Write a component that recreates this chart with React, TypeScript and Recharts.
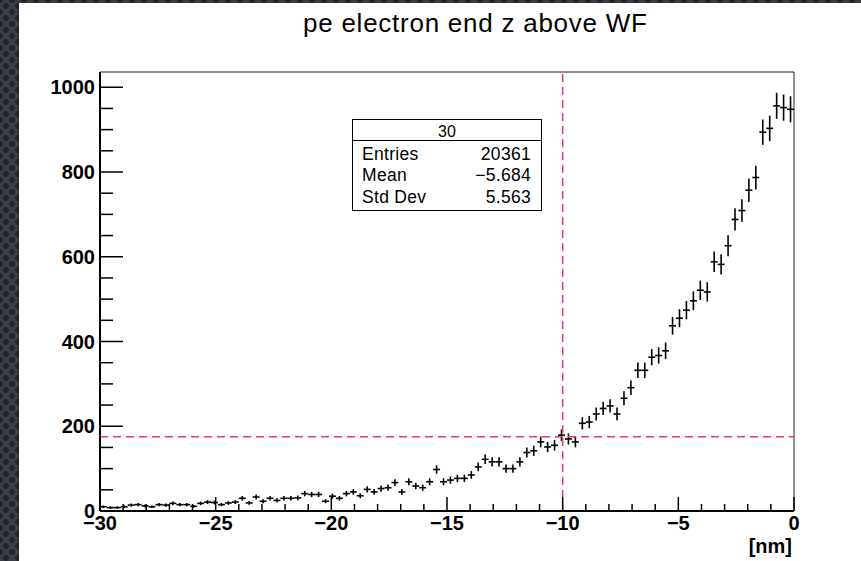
import {
  ScatterChart,
  Scatter,
  XAxis,
  YAxis,
  ErrorBar,
  ReferenceLine,
  ReferenceArea,
} from "recharts";

// histogram "30": bin centres [nm] and entries per bin (0.3 nm bins)
const binCenters = [
  -29.85, -29.55, -29.25, -28.95, -28.65, -28.35, -28.05, -27.75, -27.45, -27.15,
  -26.85, -26.55, -26.25, -25.95, -25.65, -25.35, -25.05, -24.75, -24.45, -24.15,
  -23.85, -23.55, -23.25, -22.95, -22.65, -22.35, -22.05, -21.75, -21.45, -21.15,
  -20.85, -20.55, -20.25, -19.95, -19.65, -19.35, -19.05, -18.75, -18.45, -18.15,
  -17.85, -17.55, -17.25, -16.95, -16.65, -16.35, -16.05, -15.75, -15.45, -15.15,
  -14.85, -14.55, -14.25, -13.95, -13.65, -13.35, -13.05, -12.75, -12.45, -12.15,
  -11.85, -11.55, -11.25, -10.95, -10.65, -10.35, -10.05, -9.75, -9.45, -9.15,
  -8.85, -8.55, -8.25, -7.95, -7.65, -7.35, -7.05, -6.75, -6.45, -6.15,
  -5.85, -5.55, -5.25, -4.95, -4.65, -4.35, -4.05, -3.75, -3.45, -3.15,
  -2.85, -2.55, -2.25, -1.95, -1.65, -1.35, -1.05, -0.75, -0.45, -0.15,
];

const counts = [
  10, 8, 8, 10, 14, 15, 12, 10, 15, 14,
  18, 15, 15, 11, 18, 21, 20, 15, 19, 21,
  30, 19, 33, 23, 30, 25, 30, 30, 31, 41,
  39, 39, 23, 35, 30, 41, 45, 36, 51, 45,
  53, 55, 67, 45, 69, 59, 55, 69, 98, 69,
  73, 77, 77, 85, 104, 122, 116, 116, 100, 100,
  116, 138, 142, 163, 151, 155, 179, 170, 163, 207,
  210, 229, 242, 248, 229, 266, 291, 332, 332, 363,
  367, 378, 437, 455, 474, 496, 521, 517, 588, 582,
  626, 688, 709, 757, 787, 894, 903, 956, 952, 948,
];

const binWidth = 0.3;

const xTicks = [
  -30, -29, -28, -27, -26, -25, -24, -23, -22, -21, -20, -19, -18, -17, -16, -15,
  -14, -13, -12, -11, -10, -9, -8, -7, -6, -5, -4, -3, -2, -1, 0,
];
const xLabelTicks = [-30, -25, -20, -15, -10, -5, 0];
const yTicks = [
  0, 50, 100, 150, 200, 250, 300, 350, 400, 450, 500, 550, 600, 650, 700, 750,
  800, 850, 900, 950, 1000,
];
const yLabelTicks = [0, 200, 400, 600, 800, 1000];
const yMax = 1036;

const cutX = -10;
const cutY = 175;

const statsTitle = "30";
const statsNames = ["Entries", "Mean", "Std Dev"];
const statsValues = ["20361", "\u22125.684", "5.563"];

const data = binCenters.map((x, i) => ({
  x,
  y: counts[i],
  ex: binWidth / 2,
  ey: Math.sqrt(counts[i]),
}));

const FONT = "'Liberation Sans', Arial, Helvetica, sans-serif";
const RED = "#e8395b";

const fmt = (v: number) => (v < 0 ? "\u2212" + Math.abs(v) : String(v));

function XTick({ x, y, payload }: any) {
  const major = xLabelTicks.includes(payload.value);
  return (
    <g>
      <line x1={x} x2={x} y1={y} y2={y - (major ? 14 : 7)} stroke="#000" strokeWidth={1.5} />
      {major && (
        <text x={x} y={y + 19} textAnchor="middle" fontSize={20} fontWeight="bold" fill="#000" fontFamily={FONT}>
          {fmt(payload.value)}
        </text>
      )}
    </g>
  );
}

function YTick({ x, y, payload }: any) {
  const major = yLabelTicks.includes(payload.value);
  return (
    <g>
      <line x1={x} x2={x + (major ? 23 : 13)} y1={y} y2={y} stroke="#000" strokeWidth={1.5} />
      {major && (
        <text x={x - 5} y={y + 7} textAnchor="end" fontSize={20} fontWeight="bold" fill="#000" fontFamily={FONT}>
          {fmt(payload.value)}
        </text>
      )}
    </g>
  );
}

export default function App() {
  return (
    <div
      style={{
        position: "absolute",
        left: 0,
        top: 0,
        width: 861,
        height: 561,
        backgroundColor: "#3a3d44",
        backgroundImage:
          "radial-gradient(circle, #23252a 2.5px, transparent 3.2px), radial-gradient(circle, #23252a 2.5px, transparent 3.2px)",
        backgroundSize: "12px 12px",
        backgroundPosition: "0 0, 6px 6px",
        overflow: "hidden",
        fontFamily: FONT,
      }}
    >
      <div style={{ position: "absolute", left: 19, top: 3, width: 842, height: 558, background: "#fff" }} />
      <div style={{ position: "absolute", left: 0, top: 0 }}>
        <ScatterChart width={861} height={561} margin={{ top: 72, right: 67, bottom: 0, left: 0 }}>
          <XAxis
            type="number"
            dataKey="x"
            domain={[-30, 0]}
            ticks={xTicks}
            interval={0}
            height={50}
            tickSize={0}
            tickMargin={0}
            tickLine={false}
            axisLine={{ stroke: "#000", strokeWidth: 2 }}
            tick={<XTick />}
            allowDataOverflow
          />
          <YAxis
            type="number"
            dataKey="y"
            domain={[0, yMax]}
            ticks={yTicks}
            interval={0}
            width={100}
            tickSize={0}
            tickMargin={0}
            tickLine={false}
            axisLine={{ stroke: "#000", strokeWidth: 2 }}
            tick={<YTick />}
            allowDataOverflow
          />
          <ReferenceArea x1={-30} x2={0} y1={0} y2={yMax} fill="none" stroke="#222" strokeWidth={1} />
          <Scatter data={data} shape={() => <g />} isAnimationActive={false} legendType="none">
            <ErrorBar dataKey="ey" direction="y" width={0} stroke="#000" strokeWidth={1.6} isAnimationActive={false} />
            <ErrorBar dataKey="ex" direction="x" width={0} stroke="#000" strokeWidth={1.6} isAnimationActive={false} />
          </Scatter>
          <ReferenceLine x={cutX} stroke={RED} strokeWidth={1.5} strokeDasharray="8 5" />
          <ReferenceLine y={cutY} stroke={RED} strokeWidth={1.5} strokeDasharray="8 5" />
        </ScatterChart>
      </div>
      <svg
        width={861}
        height={561}
        style={{ position: "absolute", left: 0, top: 0, pointerEvents: "none" }}
        fontFamily={FONT}
      >
        <text x={303} y={32} fontSize={26} letterSpacing={0.75} fill="#000">
          pe electron end z above WF
        </text>
        <text x={792} y={553} fontSize={20} fontWeight="bold" textAnchor="end" fill="#000">
          [nm]
        </text>
        <rect x={352.5} y={119.5} width={189} height={91} fill="#fff" stroke="#000" strokeWidth={1} />
        <line x1={352.5} x2={541.5} y1={140.5} y2={140.5} stroke="#000" strokeWidth={1} />
        <text x={447} y={137} fontSize={16} textAnchor="middle" fill="#000">
          {statsTitle}
        </text>
        {statsNames.map((n, i) => (
          <text key={n} x={362} y={160 + i * 21.3} fontSize={17.5} letterSpacing={0.3} fill="#000">
            {n}
          </text>
        ))}
        {statsValues.map((v, i) => (
          <text key={i} x={531} y={160 + i * 21.3} fontSize={17.5} letterSpacing={0.3} textAnchor="end" fill="#000">
            {v}
          </text>
        ))}
      </svg>
    </div>
  );
}
